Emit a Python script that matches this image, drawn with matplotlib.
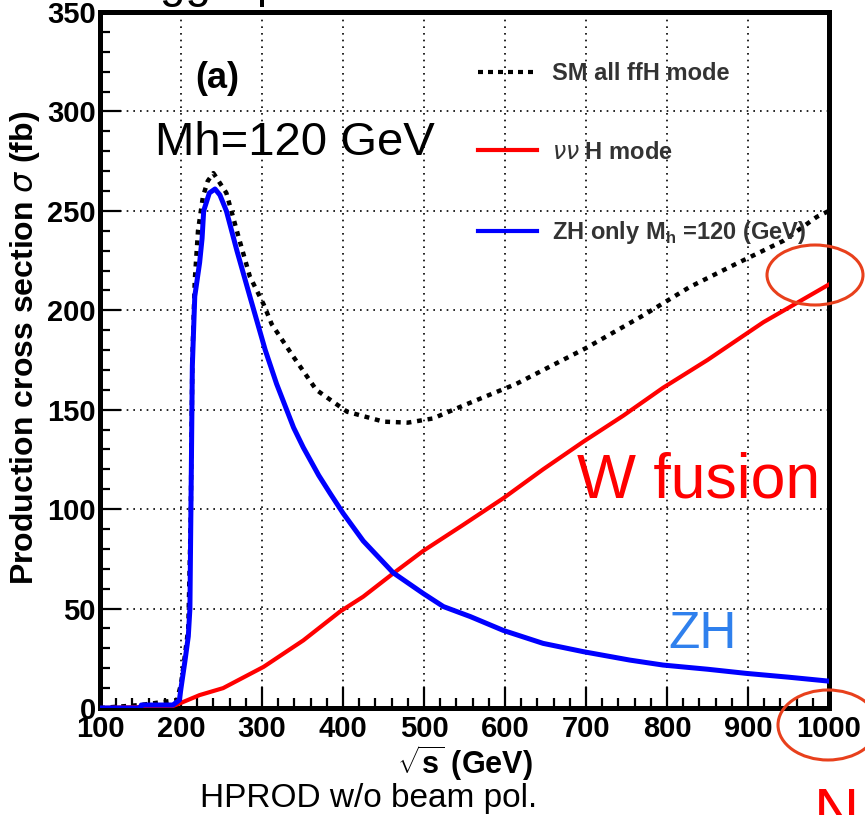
import matplotlib
matplotlib.use('Agg')
import matplotlib.pyplot as plt
from matplotlib.patches import Ellipse
from matplotlib.lines import Line2D
from matplotlib.ticker import MultipleLocator

plt.rcParams['font.family'] = ['Liberation Sans', 'DejaVu Sans']
plt.rcParams['mathtext.fontset'] = 'custom'
plt.rcParams['mathtext.rm'] = 'Liberation Sans'
plt.rcParams['mathtext.bf'] = 'Liberation Sans:bold'

# ZH only, Mh=120 GeV
x_zh = [100, 150, 151, 190, 198, 200, 205, 209, 211, 212, 213, 214, 217, 223, 226, 228, 235, 242,
        248, 256, 269, 285, 304, 318, 339, 351, 370, 384, 400, 425, 462, 499, 524, 557, 598, 647,
        697, 754, 795, 850, 898, 950, 1000]
zh = [0, 0, 1.5, 1.5, 4, 10, 24, 36, 50, 90, 130, 172, 207, 224, 236, 250, 259, 261,
      258, 250, 230, 207, 180, 163, 141, 131, 117, 108, 98, 84, 68, 57.6, 51, 46, 39, 32.5,
      28.3, 24.1, 21.6, 19.5, 17.4, 15.5, 13.5]

# nu nu H (W fusion)
x_ww = [100, 157, 190, 199, 223, 252, 302, 351, 396, 425, 462, 499, 548, 598, 647, 697, 746,
        795, 850, 919, 1000]
ww = [0, 0.5, 1, 2.4, 6.5, 10, 20.7, 34, 48.4, 56, 67.7, 79, 92, 105.5, 120, 134, 147,
      161, 175, 194, 213]

# SM all ffH
x_sm = [100, 150, 195, 200, 205, 209, 212, 214, 217, 221, 227, 233, 240, 256, 271, 285, 302,
        312, 339, 367, 405, 450, 480, 511, 548, 614, 700, 771, 828, 886, 944, 985, 1000]
sm = [0, 1.5, 4, 12, 27, 40, 95, 175, 215, 240, 257, 265, 269, 259, 237, 217, 203,
      193, 176.5, 160, 149, 144, 143.5, 145.6, 152, 163, 181, 197.5, 211.7, 223.5, 235, 247, 250]

fig = plt.figure(figsize=(8.65, 8.15), dpi=100)
ax = fig.add_axes([100/865, 1-708/815, 729/865, 696/815])

ax.plot(x_sm, sm, color='black', lw=3.2, ls=(0, (1.1, 1.3)), zorder=3)
ax.plot(x_ww, ww, color='#ff0000', lw=3, zorder=4)
ax.plot(x_zh, zh, color='#0000ff', lw=3.6, zorder=5)

ax.set_xlim(100, 1000)
ax.set_ylim(0, 350)
ax.xaxis.set_major_locator(MultipleLocator(100))
ax.xaxis.set_minor_locator(MultipleLocator(20))
ax.yaxis.set_major_locator(MultipleLocator(50))
ax.yaxis.set_minor_locator(MultipleLocator(10))
ax.grid(True, which='major', color='black', lw=1.2, ls=(0, (1, 3)))
ax.tick_params(which='both', direction='in', width=1.6, top=False, right=False)
ax.tick_params(which='major', length=15, labelsize=21, pad=3)
ax.tick_params(axis='x', which='major', pad=5)
ax.tick_params(which='minor', length=7.5)
for lab in ax.get_xticklabels() + ax.get_yticklabels():
    lab.set_fontweight('bold')
for sp in ax.spines.values():
    sp.set_linewidth(3.6)

ax.set_xlabel(r'$\sqrt{\mathbf{s}}$ (GeV)', fontsize=22, fontweight='bold', labelpad=0)
ax.set_ylabel(r'Production cross section $\sigma$ (fb)', fontsize=23, fontweight='bold', labelpad=0)
ax.yaxis.set_label_coords(-0.08, 0.517)

ax.text(0.13, 0.905, '(a)', transform=ax.transAxes, fontsize=26, fontweight='bold', va='center')

handles = [Line2D([], [], color='black', lw=3, ls=(0, (1.2, 1.2))),
           Line2D([], [], color='#ff0000', lw=3),
           Line2D([], [], color='#0000ff', lw=3)]
labels = ['SM all ffH mode', r'$\nu\nu$ H mode', r'ZH only M$_{\mathbf{h}}$ =120 (GeV)']
leg = ax.legend(handles, labels, loc='upper left', bbox_to_anchor=(0.502, 0.945), frameon=False,
                handlelength=2.5, handletextpad=0.64, labelspacing=2.35, borderpad=0,
                prop={'size': 17, 'weight': 'bold'})
for t in leg.get_texts():
    t.set_color('#333333')

# annotations
fig.text(155/865, 1-155/815, 'Mh=120 GeV', fontsize=34, va='baseline')
fig.text(577/865, 1-497/815, 'W fusion', fontsize=45, color='#ff0000', va='baseline')
fig.text(668/865, 1-648/815, 'ZH', fontsize=37, color='#2f80ed', va='baseline')
fig.text(200/865, 1-807/815, 'HPROD w/o beam pol.', fontsize=24, va='baseline')
fig.text(160/865, 1+3/815, 'ggH production', fontsize=33, va='baseline')
fig.text(814/865, 1-832/815, 'NA', fontsize=45, color='#ff0000', va='baseline')

fig.add_artist(Ellipse((815/865, 1-275/815), 96/865, 60/815, transform=fig.transFigure,
                       fill=False, ec='#e8401c', lw=2.2))
fig.add_artist(Ellipse((828/865, 1-725/815), 100/865, 70/815, transform=fig.transFigure,
                       fill=False, ec='#e8401c', lw=2.2))

fig.savefig('out.png', dpi=100)
